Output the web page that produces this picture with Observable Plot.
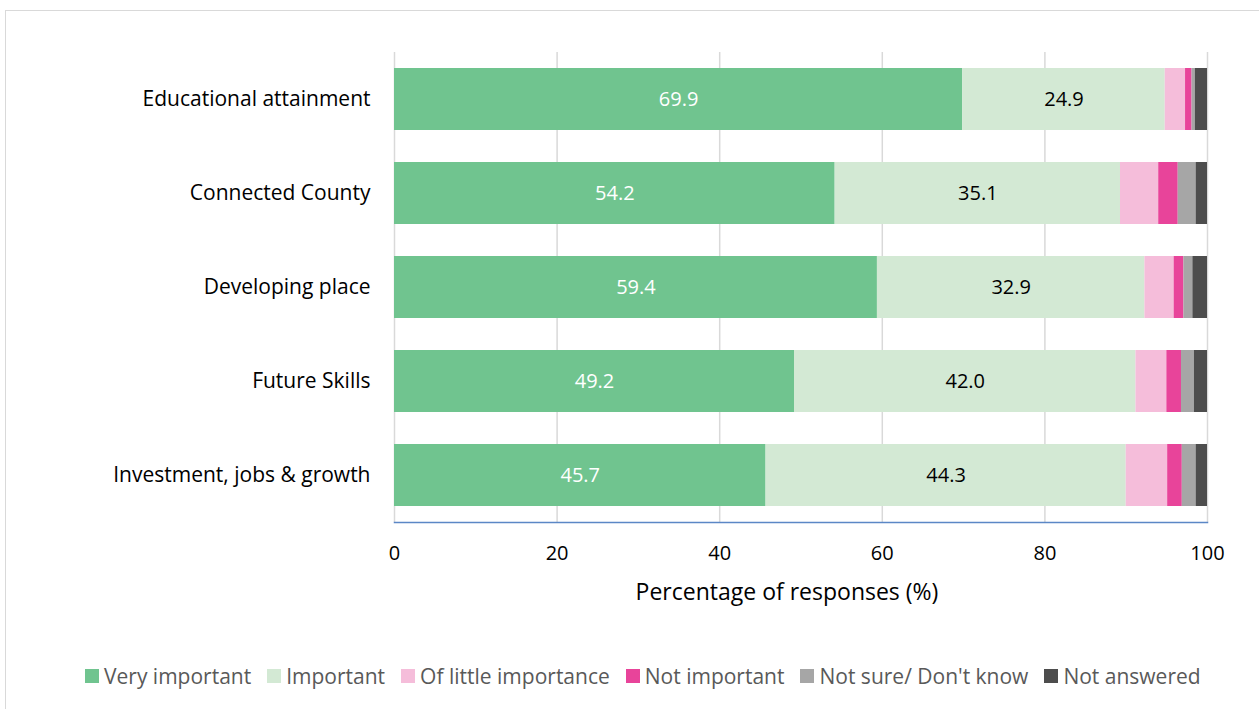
<!DOCTYPE html>
<html>
<head>
<meta charset="utf-8">
<script src="https://cdn.jsdelivr.net/npm/d3@7"></script>
<script src="https://cdn.jsdelivr.net/npm/@observablehq/plot@0.6"></script>
<style>
  html, body { margin: 0; padding: 0; background: #fff; width: 1259px; height: 709px; overflow: hidden; }
  #frame { position: absolute; left: 5px; top: 10px; width: 1300px; height: 800px; border: 1.5px solid #d9d9d9; box-sizing: border-box; }
  #chart { position: absolute; left: 0; top: 0; }
  #legend { position: absolute; left: 85px; top: 659px; width: 1200px; }
  #legend span { margin-right: 16px !important; }
  #legend span > svg { margin-right: 5px !important; }
</style>
</head>
<body>
<div id="frame"></div>
<div id="chart"></div>
<div id="legend"></div>
<script>
const categories = ["Educational attainment", "Connected County", "Developing place", "Future Skills", "Investment, jobs & growth"];
const responses = ["Very important", "Important", "Of little importance", "Not important", "Not sure/ Don't know", "Not answered"];
const colors = ["#70C48F", "#D3E9D4", "#F5BDDA", "#E8449A", "#A6A6A6", "#4D4D4D"];
const veryImportant = [69.9, 54.2, 59.4, 49.2, 45.7];
const important = [24.9, 35.1, 32.9, 42.0, 44.3];
const littleImportance = [2.5, 4.7, 3.6, 3.8, 5.1];
const notImportant = [0.8, 2.4, 1.2, 1.8, 1.8];
const notSure = [0.4, 2.2, 1.1, 1.6, 1.7];
const notAnswered = [1.5, 1.4, 1.8, 1.6, 1.4];
const xTicks = [0, 20, 40, 60, 80, 100];
const xTitle = "Percentage of responses (%)";

const series = [veryImportant, important, littleImportance, notImportant, notSure, notAnswered];
const data = [];
categories.forEach((c, i) => {
  responses.forEach((r, j) => {
    data.push({category: c, response: r, value: series[j][i]});
  });
});

const labelFill = {"Very important": "#ffffff", "Important": "#000000"};

const chart = Plot.plot({
  width: 1259,
  height: 612,
  marginLeft: 394,
  marginRight: 52,
  marginTop: 52,
  marginBottom: 90,
  style: {fontFamily: "'Open Sans', sans-serif", fontSize: "20px", color: "#000", background: "transparent"},
  x: {domain: [0, 100]},
  y: {domain: categories, paddingInner: 0.34, paddingOuter: 0.17},
  color: {domain: responses, range: colors},
  marks: [
    Plot.gridX(xTicks, {stroke: "#d9d9d9", strokeOpacity: 1, strokeWidth: 1.5}),
    Plot.barX(data, Plot.stackX({x: "value", y: "category", fill: "response", order: responses})),
    Plot.text(data, Plot.stackX({
      x: "value", y: "category", z: "response", order: responses,
      text: d => (d.response in labelFill) ? d.value.toFixed(1) : "",
      fill: d => labelFill[d.response] || "none",
      fontSize: 20
    })),
    Plot.frame({anchor: "bottom", stroke: "#5B87C6", strokeWidth: 1.5}),
    Plot.axisY({tickSize: 0, tickPadding: 24, label: null, fontSize: 21}),
    Plot.axisX({ticks: xTicks, tickSize: 0, tickPadding: 23, fontSize: 20, label: null}),
    Plot.text([xTitle], {frameAnchor: "bottom", dx: -14, dy: 70, fontSize: 23, lineAnchor: "middle", fill: "#000"})
  ]
});
document.getElementById("chart").appendChild(chart);

const legend = Plot.legend({
  color: {domain: responses, range: colors},
  legend: "swatches",
  swatchSize: 14,
  style: {fontFamily: "'Open Sans', sans-serif", fontSize: "21px", color: "#595959"}
});
document.getElementById("legend").appendChild(legend);
</script>
</body>
</html>
